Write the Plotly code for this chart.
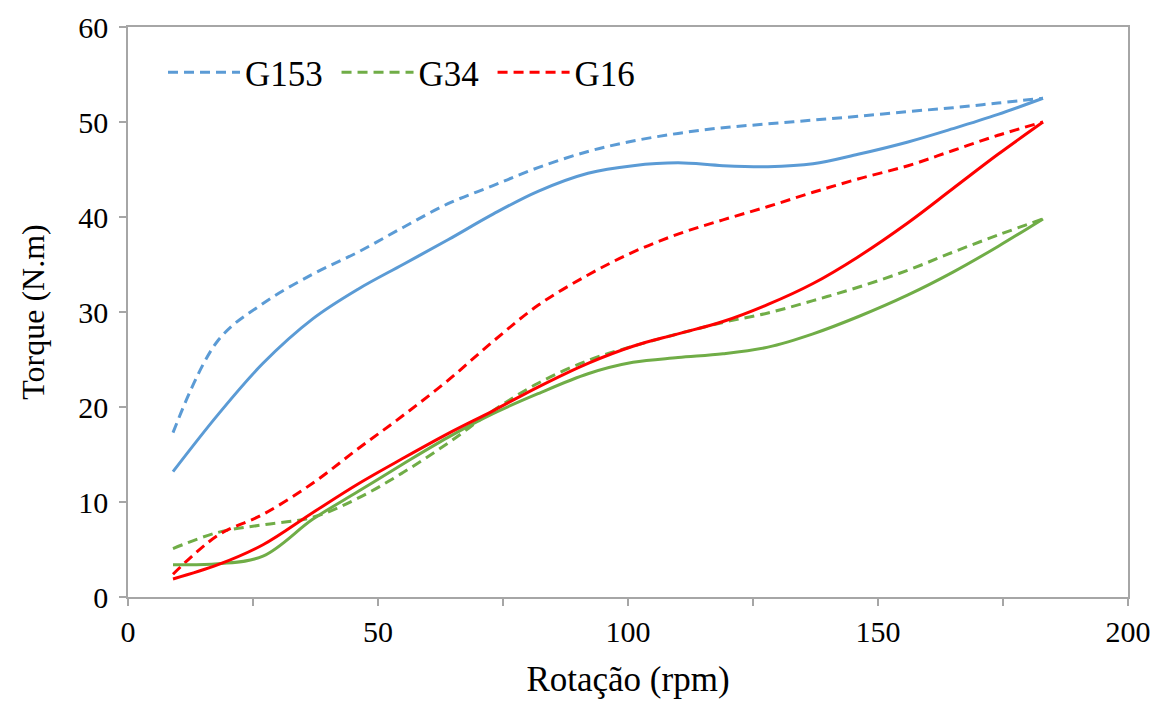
import plotly.graph_objects as go

rpm = [9, 18, 27, 37, 46, 55, 64, 73, 82, 92, 101, 110, 119, 128, 137, 146, 156, 165, 174, 183]

g153_dash = [17.3, 27.0, 30.9, 34.0, 36.3, 38.9, 41.4, 43.3, 45.2, 46.9, 48.0, 48.8, 49.4, 49.8,
             50.2, 50.6, 51.1, 51.5, 52.0, 52.5]
g153_solid = [13.2, 19.2, 24.6, 29.3, 32.4, 35.0, 37.6, 40.3, 42.7, 44.6, 45.4, 45.7, 45.4, 45.3,
              45.6, 46.6, 47.9, 49.3, 50.8, 52.5]
g34_dash = [5.1, 6.8, 7.6, 8.4, 10.4, 13.1, 16.2, 19.6, 22.5, 24.9, 26.4, 27.7, 28.9, 29.9,
            31.2, 32.6, 34.4, 36.3, 38.1, 39.8]
g34_solid = [3.4, 3.5, 4.3, 8.2, 11.1, 14.0, 16.8, 19.3, 21.4, 23.5, 24.7, 25.2, 25.6, 26.3,
             27.7, 29.5, 31.8, 34.2, 36.9, 39.8]
g16_dash = [2.4, 6.5, 8.7, 12.0, 15.6, 19.1, 22.8, 26.9, 30.7, 33.9, 36.3, 38.2, 39.7, 41.1,
            42.6, 44.0, 45.4, 47.0, 48.6, 50.0]
g16_solid = [1.9, 3.4, 5.5, 8.9, 11.9, 14.6, 17.2, 19.6, 22.1, 24.6, 26.4, 27.7, 29.0, 30.8,
             33.0, 35.8, 39.4, 43.0, 46.6, 50.0]

names = ["G153", "G34", "G16"]
colors = ["#5B9BD5", "#70AD47", "#FF0000"]
dashed = [g153_dash, g34_dash, g16_dash]
solid = [g153_solid, g34_solid, g16_solid]

FONT = "'Liberation Serif', 'Times New Roman', 'DejaVu Serif', serif"

fig = go.Figure()
for name, col, ys in zip(names, colors, dashed):
    fig.add_trace(go.Scatter(x=rpm, y=ys, mode="lines", name=name + "\u00a0",
                             line=dict(color=col, width=3, dash="10px,6px", shape="spline", smoothing=1.0)))
for name, col, ys in zip(names, colors, solid):
    fig.add_trace(go.Scatter(x=rpm, y=ys, mode="lines", name=name, showlegend=False,
                             line=dict(color=col, width=3, shape="spline", smoothing=1.0)))

axis_common = dict(showline=True, linecolor="#A6A6A6", linewidth=1.5, mirror=True,
                   ticks="outside", ticklen=7, tickcolor="#A6A6A6", tickwidth=1.5,
                   showgrid=False, zeroline=False, automargin=False,
                   ticklabeloverflow="allow",
                   tickfont=dict(family=FONT, size=30, color="black"))

fig.update_layout(
    width=1168, height=706,
    margin=dict(l=120, r=48, t=19, b=117),
    paper_bgcolor="white", plot_bgcolor="white",
    font=dict(family=FONT, size=30, color="black"),
    showlegend=True,
    legend=dict(orientation="h", x=0.035, y=0.972, xanchor="left", yanchor="top",
                font=dict(family=FONT, size=35, color="black"),
                bgcolor="rgba(0,0,0,0)", itemwidth=72, tracegroupgap=0),
    xaxis=dict(range=[0, 200], dtick=50, tick0=0,
               minor=dict(dtick=25, ticks="outside", ticklen=7, tickcolor="#A6A6A6", tickwidth=1.5),
               title=dict(text="Rotação (rpm)", font=dict(family=FONT, size=35), standoff=20),
               **axis_common),
    yaxis=dict(range=[0, 60], dtick=10, tick0=0, ticklabelstandoff=5,
               title=dict(text="Torque (N.m)", font=dict(family=FONT, size=32), standoff=24),
               **axis_common),
)

fig.write_html("out.html")
